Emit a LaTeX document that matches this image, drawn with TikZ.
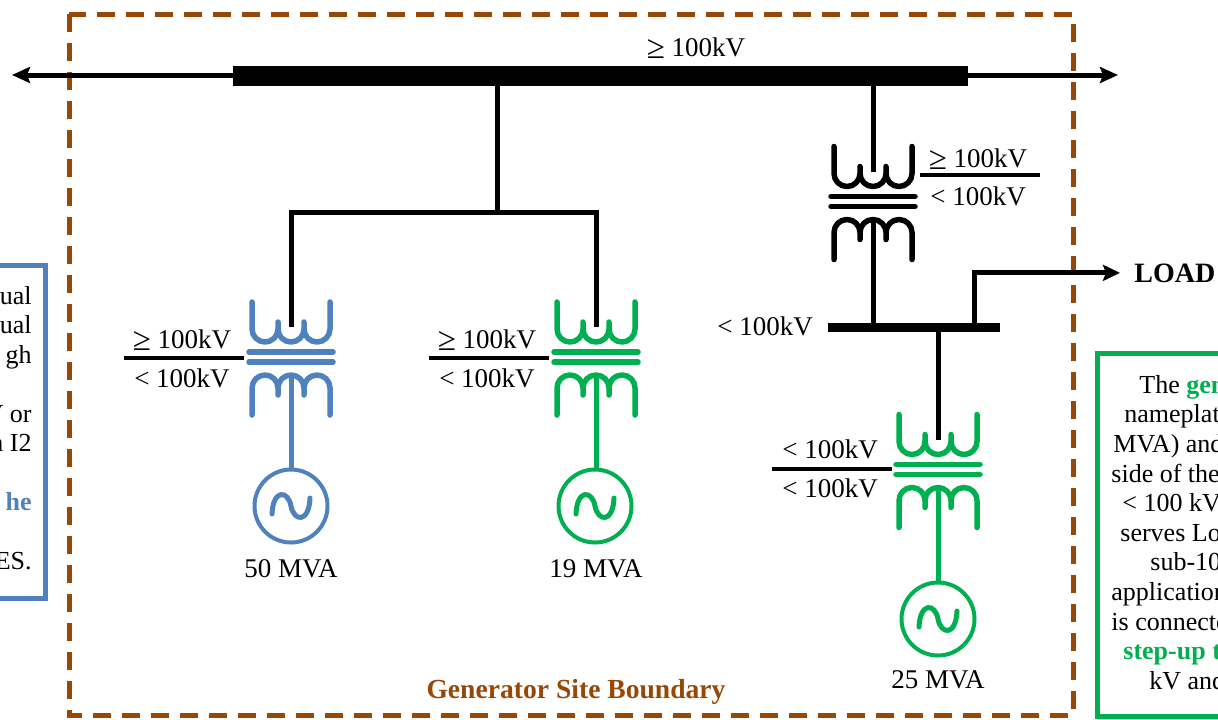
\documentclass[tikz,border=0pt]{standalone}
\usepackage{fontspec}
\setmainfont{Liberation Serif}
\usepackage{tikz}
\usetikzlibrary{arrows.meta}
\definecolor{siteblue}{HTML}{4F81BD}
\definecolor{sitegreen}{HTML}{00B050}
\definecolor{sitebrown}{HTML}{974806}
\newcommand{\geqsign}{{\fontsize{16.5}{15}\selectfont\raisebox{-0.08em}{≥}}}

\begin{document}
\begin{tikzpicture}[x=0.5pt, y=-0.5pt,
    every node/.style={font=\fontsize{13.5}{15}\selectfont, inner sep=0pt}]

    \tikzstyle{wire}=[line width=2.5pt]
    \tikzstyle{winding}=[line width=2.75pt, line cap=round, line join=round]
    \tikzstyle{busbar}=[rectangle, fill=black, inner sep=0pt]
    \tikzstyle{gennode}=[circle, draw, line width=2pt, minimum size=36.5pt, inner sep=0pt]
    \tikzstyle{lbl}=[anchor=base]
    \tikzstyle{ratio}=[line width=2pt]
    \tikzstyle{boundary}=[draw=sitebrown, line width=2.5pt, dash pattern=on 9pt off 5.5pt]
    \tikzstyle{notebox}=[line width=2.5pt]
    \tikzstyle{notetext}=[font=\fontsize{13}{15}\selectfont]
    \tikzstyle{notebold}=[font=\fontsize{13}{15}\selectfont\bfseries]
    \tikzstyle{boldtext}=[font=\fontsize{13.8}{15}\selectfont\bfseries]
    \tikzstyle{feedarrow}=[-{Stealth[length=8.5pt, width=8pt, inset=1.5pt]}]

    \useasboundingbox (0,0) rectangle (1218,719);
    \clip (0,0) rectangle (1218,719);

    % side notes (cut by the frame)
    \draw[notebox, siteblue] (-20,265) rectangle (45,598);
    \node[anchor=base east, notetext] (ln1) at (32,304) {ual};
    \node[anchor=base east, notetext] (ln2) at (32,333) {ual};
    \node[anchor=base east, notetext] (ln3) at (32,363) {gh};
    \node[anchor=base east, notetext] (ln4) at (32,422) {V or};
    \node[anchor=base east, notetext] (ln5) at (32,451) {n I2};
    \node[anchor=base east, notebold, text=siteblue] (ln6) at (32,510) {he};
    \node[anchor=base east, notetext] (ln7) at (32,569) {ES.};

    \draw[notebox, sitegreen] (1097,353) rectangle (1240,716);
    \node[anchor=base west, notetext] (rn1) at (1139,393) {The \textcolor{sitegreen}{\bfseries gen}};
    \node[anchor=base west, notetext] (rn2) at (1124,422.5) {nameplat};
    \node[anchor=base west, notetext] (rn3) at (1113,452) {MVA) and};
    \node[anchor=base west, notetext] (rn4) at (1111,482) {side of the};
    \node[anchor=base west, notetext] (rn5) at (1122,511.5) {< 100 kV.};
    \node[anchor=base west, notetext] (rn6) at (1120,541) {serves Loa};
    \node[anchor=base west, notetext] (rn7) at (1150,570.5) {sub-100};
    \node[anchor=base west, notetext] (rn8) at (1111,600) {application};
    \node[anchor=base west, notetext] (rn9) at (1111,630) {is connecte};
    \node[anchor=base west, notebold, text=sitegreen] (rn10) at (1123,659.5) {step-up tr};
    \node[anchor=base west, notetext] (rn11) at (1149,689) {kV and};

    % site boundary
    \draw[boundary] (69,14) rectangle (1073,715);
    \node[lbl, boldtext, text=sitebrown] (site) at (576,698) {Generator Site Boundary};

    % transformers
    \foreach \tx/\ty/\tc in {291/357/siteblue, 596/357/sitegreen, 873/201.5/black, 938/469.5/sitegreen} {
        \begin{scope}[shift={(\tx,\ty)}, color=\tc]
            \draw[winding] (-39,-55) -- (-39,-28)
                arc[start angle=180, end angle=360, radius=6.5pt] -- (-13,-35) -- (-13,-28)
                arc[start angle=180, end angle=360, radius=6.5pt] -- (13,-35) -- (13,-28)
                arc[start angle=180, end angle=360, radius=6.5pt] -- (39,-55);
            \draw[winding] (-42,-5) -- (42,-5) (-42,5) -- (42,5);
            \draw[winding] (-39,58) -- (-39,31)
                arc[start angle=180, end angle=0, radius=6.5pt] -- (-13,38) -- (-13,31)
                arc[start angle=180, end angle=0, radius=6.5pt] -- (13,38) -- (13,31)
                arc[start angle=180, end angle=0, radius=6.5pt] -- (39,58);
        \end{scope}
    }

    \coordinate (t1in) at (291,327);
    \coordinate (t1out) at (291,375);
    \coordinate (t2in) at (596,327);
    \coordinate (t2out) at (596,375);
    \coordinate (t0in) at (873,171.5);
    \coordinate (t0out) at (873,219.5);
    \coordinate (t3in) at (938,439.5);
    \coordinate (t3out) at (938,487.5);
    \coordinate (tap) at (497,212);
    \coordinate (loadtap) at (974,272);
    \coordinate (hvwest) at (12,75);
    \coordinate (hveast) at (1118,75);

    % generators
    \foreach \n/\gx/\gy/\gc in {1/291/506/siteblue, 2/595/506/sitegreen, 3/938/619/sitegreen} {
        \node[gennode, draw=\gc] (g\n) at (\gx,\gy) {};
        \draw[winding, line width=2.5pt, color=\gc, shift={(\gx,\gy)}]
            (-19,8) .. controls (-18,-17) and (-3,-16) .. (0,0)
            .. controls (3,16) and (18,17) .. (19,-8);
    }
    \node[lbl] (m1) at (291,577) {50 MVA};
    \node[lbl] (m2) at (596,577) {19 MVA};
    \node[lbl] (m3) at (938,688) {25 MVA};

    % buses
    \draw[line width=2.5pt, {Stealth[length=9pt, width=8pt, inset=1.5pt]}-{Stealth[length=9pt, width=8pt, inset=1.5pt]}] (hvwest) -- (hveast);
    \node[busbar, minimum width=367.5pt, minimum height=10pt] (hvbus) at (600.5,76) {};
    \node[lbl] (hvlbl) at (696,56) {\geqsign\ 100kV};

    \node[busbar, minimum width=86pt, minimum height=4.5pt] (lvbus) at (914,327.5) {};
    \node[lbl] (lvlbl) at (765,335) {< 100kV};

    % connections
    \draw[wire] (hvbus.south -| tap) -- (tap);
    \draw[wire] (t1in) |- (tap) -| (t2in);
    \draw[wire] (hvbus.south -| t0in) -- (t0in);
    \draw[wire] (t0out) -- (t0out |- lvbus.north);
    \draw[wire] (lvbus.south -| t3in) -- (t3in);
    \draw[wire, color=siteblue] (t1out) -- (t1out |- g1.north);
    \draw[wire, color=sitegreen] (t2out) -- (t2out |- g2.north);
    \draw[wire, color=sitegreen] (t3out) -- (t3out |- g3.north);

    \node[lbl, anchor=base west, font=\fontsize{14}{15}\selectfont\bfseries] (load) at (1134,282) {LOAD};
    \draw[wire, feedarrow] (lvbus.north -| loadtap) |- ([xshift=-7pt]load.west);

    % voltage ratios
    \node[lbl] (r1hi) at (182,348) {\geqsign\ 100kV};
    \node[lbl] (r1lo) at (182,387) {< 100kV};
    \draw[ratio] (124,358) -- (244,358);
    \node[lbl] (r2hi) at (487,348) {\geqsign\ 100kV};
    \node[lbl] (r2lo) at (487,387) {< 100kV};
    \draw[ratio] (429,358) -- (549,358);
    \node[lbl] (r0hi) at (978,167) {\geqsign\ 100kV};
    \node[lbl] (r0lo) at (978,205) {< 100kV};
    \draw[ratio] (920,175) -- (1040,175);
    \node[lbl] (r3hi) at (830,458) {< 100kV};
    \node[lbl] (r3lo) at (830,497) {< 100kV};
    \draw[ratio] (772,469) -- (892,469);

\end{tikzpicture}
\end{document}
